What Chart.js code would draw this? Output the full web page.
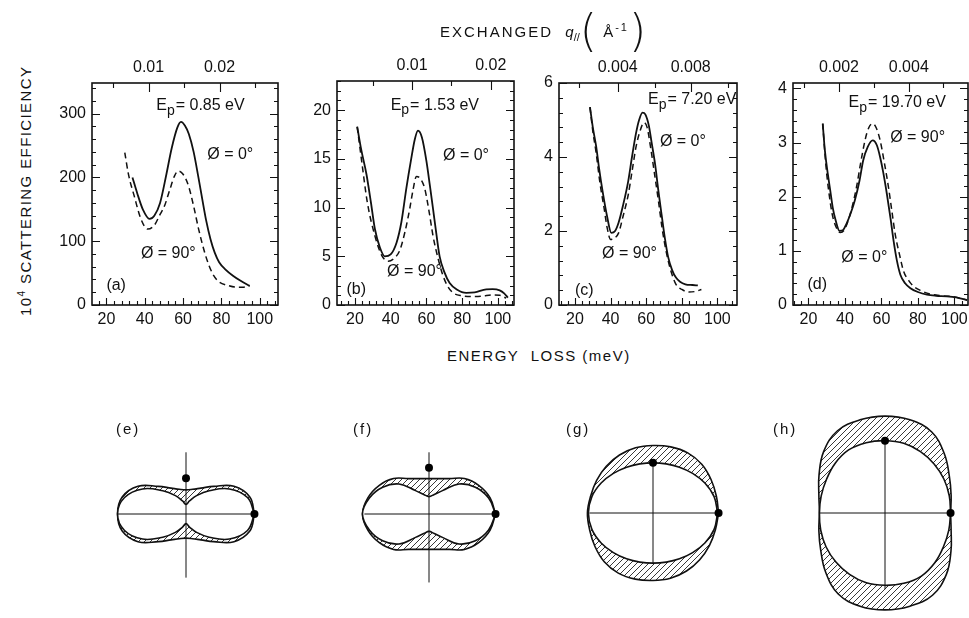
<!DOCTYPE html>
<html lang="en">
<head>
<meta charset="UTF-8">
<title>Scattering efficiency vs energy loss</title>
<script src="https://cdn.jsdelivr.net/npm/chart.js"></script>
<style>
  html, body { margin: 0; padding: 0; background: #fff; overflow: hidden; }
  body { width: 969px; height: 618px; position: relative; font-family: 'Liberation Sans', Arial, sans-serif; color: #111; }
  canvas { position: absolute; }
  .txt { position: absolute; white-space: nowrap; font-size: 15px; letter-spacing: 2px; z-index: 5; }
  .ytitle { transform: rotate(-90deg); transform-origin: center center; letter-spacing: 1.4px; }
  .big { font-family: 'DejaVu Sans', sans-serif; font-size: 44px; font-weight: 200; letter-spacing: 0; vertical-align: -9px; line-height: 0; }
</style>
</head>
<body>

<div class="txt" style="left:440px; top:18px; line-height:18px;">EXCHANGED&nbsp;&nbsp;<i style="letter-spacing:0">q</i><sub style="font-size:11px;letter-spacing:0">//</sub><span class="big">(</span>&nbsp;Å<sup style="font-size:11px">-1</sup><span class="big">)</span></div>
<div class="txt ytitle" style="left:-100px; top:182px; width:250px; text-align:center;">10<sup style="font-size:10px">4</sup> SCATTERING EFFICIENCY</div>
<div class="txt" style="left:447px; top:347px; letter-spacing:1.5px;">ENERGY&nbsp;&nbsp;LOSS (meV)</div>

<div class="txt" style="left:116px; top:420px;">(e)</div>
<div class="txt" style="left:353px; top:420px;">(f)</div>
<div class="txt" style="left:566px; top:420px;">(g)</div>
<div class="txt" style="left:773px; top:420px;">(h)</div>

<canvas id="pa"></canvas>
<canvas id="pb"></canvas>
<canvas id="pc"></canvas>
<canvas id="pd"></canvas>
<canvas id="pe"></canvas>
<canvas id="pf"></canvas>
<canvas id="pg"></canvas>
<canvas id="ph"></canvas>

<script>
// ---- shared tick labels ----
const energyTicks = [20, 40, 60, 80, 100];

// ---- panel (a)  Ep = 0.85 eV ----
const energyA0 = [33.6, 36, 39, 42.5, 45, 48, 51.3, 54, 57, 58.9, 61, 63, 65.5, 68, 70, 72, 74.3, 76.5, 78.8, 82, 86, 90, 94.7];
const effA0 = [200, 176, 150, 135, 140, 160, 205, 245, 278, 287, 281, 268, 240, 200, 166, 133, 103, 82, 67, 56, 46, 38, 30];
const energyA90 = [29.6, 31.5, 34.5, 38, 41.6, 45, 48, 50.4, 53, 55.5, 57.5, 60, 62.8, 65.5, 68.1, 71, 73.5, 76, 78.8, 83, 87.6, 91, 94.7];
const effA90 = [239, 205, 171, 135, 119, 125, 142, 156, 180, 202, 210, 205, 187, 155, 119, 85, 62, 46, 36, 31, 28, 28, 30];
const yTicksA = [0, 100, 200, 300];
const qLabelsA = ['0.01', '0.02'];
const qPosA = [42, 79];
const qMinorA = [23.5, 60.5, 97.5];

// ---- panel (b)  Ep = 1.53 eV ----
const energyB0 = [21.3, 23.5, 26.5, 29, 31.2, 34, 36.7, 40, 43.3, 46, 48.8, 51.5, 53.5, 55.3, 57.5, 60, 62, 63.7, 65.5, 67.4, 70, 73, 77, 82.3, 87, 93.5, 97, 101, 103.5, 105.6];
const effB0 = [18.3, 16, 13.4, 10.5, 7.8, 5.9, 5.0, 5.2, 6.4, 8.5, 12, 15, 17, 17.9, 17.2, 14.8, 12.2, 9.9, 7.4, 5.0, 3.4, 2.26, 1.6, 1.25, 1.3, 1.6, 1.62, 1.5, 1.2, 0.75];
const energyB90 = [21.3, 24, 27, 31.2, 35, 38.6, 42, 45.1, 48, 50.7, 52.5, 54.4, 56.5, 59, 61.5, 63.7, 66.5, 69.3, 72, 74.9, 80, 86, 91, 97.2, 101, 104.6];
const effB90 = [18.3, 14.5, 10.5, 7.1, 5.1, 4.5, 4.8, 5.6, 7.5, 9.9, 11.8, 13.2, 13.0, 12.0, 9.6, 7.1, 4.8, 3.0, 1.9, 1.25, 0.95, 0.87, 0.9, 1.04, 1.0, 0.7];
const yTicksB = [0, 5, 10, 15, 20];
const qLabelsB = ['0.01', '0.02'];
const qPosB = [52, 96];
const qMinorB = [30, 74];

// ---- panel (c)  Ep = 7.20 eV ----
const energyC0 = [28.4, 30, 31.9, 33.5, 35.5, 38, 40.4, 42.5, 44.5, 47, 49.9, 52, 54.3, 56, 57.9, 59.5, 61.5, 63, 65, 66.8, 68.7, 70.5, 72.3, 74.5, 76.7, 79, 82, 86, 89];
const effC0 = [5.35, 4.8, 4.28, 3.7, 3.07, 2.4, 1.95, 2.0, 2.23, 2.7, 3.35, 4.0, 4.65, 5.0, 5.2, 5.15, 4.84, 4.4, 3.8, 3.1, 2.42, 1.8, 1.3, 0.95, 0.74, 0.63, 0.56, 0.54, 0.53];
const energyC90 = [28.4, 30, 31.9, 34, 36.4, 38, 40, 42, 44.5, 47, 49.9, 52, 54.3, 56.5, 58.8, 60.5, 62.4, 64.5, 66.9, 69, 71.4, 74, 76.7, 80, 84, 88, 91];
const effC90 = [5.35, 4.7, 4.1, 3.3, 2.6, 2.1, 1.77, 1.8, 1.95, 2.4, 2.98, 3.6, 4.28, 4.7, 4.93, 4.8, 4.28, 3.6, 2.8, 2.05, 1.4, 0.9, 0.56, 0.42, 0.35, 0.37, 0.42];
const yTicksC = [0, 2, 4, 6];
const qLabelsC = ['0.004', '0.008'];
const qPosC = [44, 85];
const qMinorC = [22.5, 65, 106];

// ---- panel (d)  Ep = 19.70 eV ----
const energyD0 = [27.8, 29, 30.6, 32, 33.3, 35, 37, 38.8, 40.7, 43, 45.4, 48, 50, 52.5, 55.2, 57.5, 59.3, 61, 63, 65, 66.7, 68.5, 70.4, 73, 75.9, 80, 85, 90, 96, 101, 107];
const effD0 = [3.35, 2.85, 2.42, 2.1, 1.8, 1.55, 1.37, 1.38, 1.49, 1.68, 1.93, 2.3, 2.67, 2.92, 3.04, 2.95, 2.73, 2.45, 2.05, 1.6, 1.18, 0.82, 0.56, 0.4, 0.31, 0.24, 0.19, 0.17, 0.16, 0.14, 0.09];
const energyD90 = [27.8, 29, 30, 31.5, 33, 35, 37.4, 39.5, 41.7, 44, 46.3, 48.5, 51, 53, 55.2, 57.2, 59.3, 61.5, 63.9, 65.8, 67.6, 70, 72.2, 75, 77.8, 82, 87, 93, 100, 107];
const effD90 = [3.35, 2.8, 2.42, 2.0, 1.68, 1.45, 1.34, 1.38, 1.55, 1.82, 2.17, 2.6, 3.04, 3.27, 3.35, 3.27, 3.04, 2.65, 2.17, 1.72, 1.3, 0.92, 0.62, 0.45, 0.34, 0.26, 0.2, 0.17, 0.15, 0.09];
const yTicksD = [0, 1, 2, 3, 4];
const qLabelsD = ['0.002', '0.004'];
const qPosD = [36.7, 75];
const qMinorD = [17.5, 56, 94];

// ---- polar diagrams (e)-(h): radius at each angle, point-symmetric ----
const polarAngles = [0, 15, 30, 45, 60, 75, 90, 105, 120, 135, 150, 165];
const eOuter = [71, 68.5, 57.5, 40.5, 31, 26.5, 25, 26.5, 31, 40.5, 57.5, 68.5];
const eInner = [71, 66, 52, 34, 22, 14, 10, 14, 22, 34, 52, 66];
const fOuter = [69, 65.5, 59.5, 52, 42.4, 38, 36.7, 38, 42.4, 52, 59.5, 65.5];
const fInner = [69, 64, 55.5, 44, 28, 21, 18, 21, 28, 44, 55.5, 64];
const gOuter = [68, 68, 69.5, 71.5, 72, 71, 70, 70, 69.5, 68.5, 67.5, 67];
const gInner = [67, 65.6, 62.1, 58.1, 54.8, 52.7, 52, 52.7, 54.8, 58.1, 62.1, 65.6];
const hOuter = [68, 71, 77, 87, 97, 100, 100.5, 100, 98.5, 90, 79, 71];
const hInner = [68, 69, 70.5, 72, 73.6, 75, 75, 75.5, 75.5, 73, 70, 68.5];
// axis line extents [negative end, positive end] and dot radii [at 0 deg, at 90 deg]
const eHAxis = [-71, 71], eVAxis = [-66, 64], eDots = [71, 37];
const fHAxis = [-67, 69], fVAxis = [-71, 64], fDots = [69, 48];
const gHAxis = [-66, 68], gVAxis = [-53, 52], gDots = [68, 52];
const hHAxis = [-68, 68], hVAxis = [-79, 75], hDots = [68, 75];

// ---------------------------------------------------------------
const AXIS_L = 50, AXIS_T = 30, AXIS_B = 30, PAD_R = 12;
const INK = '#111';
const FAMILY = "'Liberation Sans', Arial, sans-serif";
const TICK_FONT = { family: FAMILY, size: 16 };

function pts(xs, ys) { return xs.map((x, i) => ({ x: x, y: ys[i] })); }

const panelFrame = {
  id: 'panelFrame',
  afterDraw(chart, args, o) {
    const { ctx, chartArea: a } = chart;
    const sx = chart.scales.x, sy = chart.scales.y;
    ctx.save();
    ctx.strokeStyle = INK;
    ctx.lineWidth = 1.6;
    ctx.strokeRect(a.left, a.top, a.right - a.left, a.bottom - a.top);
    ctx.lineWidth = 1.1;
    ctx.beginPath();
    const n = Math.floor(sy.max / o.yMinor + 1e-6);
    for (let k = 0; k <= n; k++) {
      const v = k * o.yMinor;
      const py = Math.round(sy.getPixelForValue(v)) + 0.5;
      const L = o.yTicks.some(t => Math.abs(t - v) < 1e-6) ? 8 : 4;
      ctx.moveTo(a.left, py); ctx.lineTo(a.left + L, py);
      ctx.moveTo(a.right, py); ctx.lineTo(a.right - L, py);
    }
    for (let v = Math.ceil(sx.min / 4) * 4; v <= sx.max; v += 4) {
      const px = Math.round(sx.getPixelForValue(v)) + 0.5;
      const L = v % 20 === 0 ? 7 : 4;
      ctx.moveTo(px, a.bottom); ctx.lineTo(px, a.bottom - L);
    }
    o.qPos.forEach(v => {
      const px = Math.round(sx.getPixelForValue(v)) + 0.5;
      ctx.moveTo(px, a.top); ctx.lineTo(px, a.top + 9);
    });
    o.qMinor.forEach(v => {
      if (v > sx.max || v < sx.min) return;
      const px = Math.round(sx.getPixelForValue(v)) + 0.5;
      ctx.moveTo(px, a.top); ctx.lineTo(px, a.top + 5);
    });
    ctx.stroke();

    // annotations
    ctx.fillStyle = INK;
    ctx.textBaseline = 'middle';
    o.notes.forEach(n => {
      let px = sx.getPixelForValue(n.x);
      const py = sy.getPixelForValue(n.y);
      n.parts.forEach(p => {
        ctx.font = (p.sub ? '14px ' : '16px ') + FAMILY;
        ctx.fillText(p.t, px, py + (p.sub ? 5 : 0));
        px += ctx.measureText(p.t).width + (p.gap || 0);
      });
    });
    ctx.restore();
  }
};

function epNote(x, y, val) {
  return { x: x, y: y, parts: [{ t: 'E' }, { t: 'p', sub: true, gap: 1 }, { t: '= ' + val + ' eV' }] };
}
function phiNote(x, y, deg) { return { x: x, y: y, parts: [{ t: 'Ø = ' + deg + '°' }] }; }
function tagNote(x, y, tag) { return { x: x, y: y, parts: [{ t: '(' + tag + ')' }] }; }

const panels = [
  { id: 'pa', box: [92, 83, 278, 305], xr: [12.5, 109.5], yMax: 348, yTicks: yTicksA, yMinor: 20,
    qPos: qPosA, qLabels: qLabelsA, qMinor: qMinorA,
    solid: pts(energyA0, effA0), dashed: pts(energyA90, effA90),
    notes: [epNote(46, 312, '0.85'), phiNote(72.6, 236, 0), phiNote(38, 80, 90), tagNote(20, 30, 'a')] },
  { id: 'pb', box: [337, 81, 514, 305], xr: [10, 109], yMax: 23, yTicks: yTicksB, yMinor: 1,
    qPos: qPosB, qLabels: qLabelsB, qMinor: qMinorB,
    solid: pts(energyB0, effB0), dashed: pts(energyB90, effB90),
    notes: [epNote(40, 20.5, '1.53'), phiNote(69.3, 15.3, 0), phiNote(38, 3.4, 90), tagNote(15.3, 1.6, 'b')] },
  { id: 'pc', box: [559, 83, 737, 305], xr: [11, 111], yMax: 6, yTicks: yTicksC, yMinor: 0.4,
    qPos: qPosC, qLabels: qLabelsC, qMinor: qMinorC,
    solid: pts(energyC0, effC0), dashed: pts(energyC90, effC90),
    notes: [epNote(61, 5.55, '7.20'), phiNote(67.7, 4.42, 0), phiNote(35.2, 1.4, 90), tagNote(20, 0.4, 'c')] },
  { id: 'pd', box: [793, 83, 968, 305], xr: [11.5, 107.5], yMax: 4.1, yTicks: yTicksD, yMinor: 0.2,
    qPos: qPosD, qLabels: qLabelsD, qMinor: qMinorD,
    solid: pts(energyD0, effD0), dashed: pts(energyD90, effD90),
    notes: [epNote(42, 3.73, '19.70'), phiNote(64.8, 3.1, 90), phiNote(38, 0.87, 0), tagNote(19.4, 0.37, 'd')] }
];

panels.forEach(p => {
  const [l, t, r, b] = p.box;
  const cv = document.getElementById(p.id);
  cv.width = (r - l) + AXIS_L + PAD_R;
  cv.height = (b - t) + AXIS_T + AXIS_B;
  cv.style.left = (l - AXIS_L) + 'px';
  cv.style.top = (t - AXIS_T) + 'px';

  new Chart(cv, {
    type: 'scatter',
    data: {
      datasets: [
        { data: p.solid, showLine: true, borderColor: INK, borderWidth: 1.8, pointRadius: 0, cubicInterpolationMode: 'monotone' },
        { data: p.dashed, showLine: true, borderColor: INK, borderWidth: 1.5, borderDash: [6, 4], pointRadius: 0, cubicInterpolationMode: 'monotone' }
      ]
    },
    options: {
      animation: false,
      responsive: false,
      layout: { padding: { left: 0, right: PAD_R, top: 0, bottom: 0 } },
      plugins: {
        legend: { display: false },
        tooltip: { enabled: false },
        panelFrame: { yTicks: p.yTicks, yMinor: p.yMinor, qPos: p.qPos, qMinor: p.qMinor, notes: p.notes }
      },
      scales: {
        x: {
          type: 'linear', position: 'bottom', min: p.xr[0], max: p.xr[1],
          grid: { display: false, drawTicks: false }, border: { display: false },
          ticks: { font: TICK_FONT, color: INK, padding: 5, maxRotation: 0, autoSkip: false },
          afterBuildTicks: s => { s.ticks = energyTicks.map(v => ({ value: v })); },
          afterFit: s => { s.height = AXIS_B; }
        },
        xTop: {
          type: 'linear', position: 'top', min: p.xr[0], max: p.xr[1],
          grid: { display: false, drawTicks: false }, border: { display: false },
          ticks: { font: TICK_FONT, color: INK, padding: 6, maxRotation: 0, autoSkip: false,
                   callback: (v, i) => p.qLabels[i] },
          afterBuildTicks: s => { s.ticks = p.qPos.map(v => ({ value: v })); },
          afterFit: s => { s.height = AXIS_T; }
        },
        y: {
          type: 'linear', position: 'left', min: 0, max: p.yMax,
          grid: { display: false, drawTicks: false }, border: { display: false },
          ticks: { font: TICK_FONT, color: INK, padding: 6 },
          afterBuildTicks: s => { s.ticks = p.yTicks.map(v => ({ value: v })); },
          afterFit: s => { s.width = AXIS_L; }
        }
      }
    },
    plugins: [panelFrame]
  });
});

// ---- polar diagrams ----
function hatchPattern() {
  const c = document.createElement('canvas');
  c.width = 6; c.height = 6;
  const g = c.getContext('2d');
  g.strokeStyle = '#222';
  g.lineWidth = 0.9;
  g.beginPath();
  g.moveTo(0, 6); g.lineTo(6, 0);
  g.moveTo(-1, 1); g.lineTo(1, -1);
  g.moveTo(5, 7); g.lineTo(7, 5);
  g.stroke();
  return g.createPattern(c, 'repeat');
}
const HATCH = hatchPattern();

function loop(radii) {
  const n = polarAngles.length;
  const out = [];
  for (let i = 0; i <= n * 2; i++) {
    const k = i % n;
    const turn = (i >= n && i < n * 2) ? 180 : 0;
    const ang = (polarAngles[k] + turn) * Math.PI / 180;
    out.push({ x: radii[k] * Math.cos(ang), y: radii[k] * Math.sin(ang) });
  }
  return out;
}

const HALF = 112;
const diagrams = [
  { id: 'pe', c: [186, 514], outer: eOuter, inner: eInner, h: eHAxis, v: eVAxis, dots: eDots },
  { id: 'pf', c: [429, 514], outer: fOuter, inner: fInner, h: fHAxis, v: fVAxis, dots: fDots },
  { id: 'pg', c: [653, 513], outer: gOuter, inner: gInner, h: gHAxis, v: gVAxis, dots: gDots },
  { id: 'ph', c: [885, 513], outer: hOuter, inner: hInner, h: hHAxis, v: hVAxis, dots: hDots }
];

diagrams.forEach(d => {
  const cv = document.getElementById(d.id);
  cv.width = HALF * 2; cv.height = HALF * 2;
  cv.style.left = (d.c[0] - HALF) + 'px';
  cv.style.top = (d.c[1] - HALF) + 'px';
  new Chart(cv, {
    type: 'scatter',
    data: {
      datasets: [
        { data: [{ x: d.dots[0], y: 0 }, { x: 0, y: d.dots[1] }], pointRadius: 4, pointBackgroundColor: '#000', pointBorderWidth: 0, order: 0 },
        { data: [{ x: d.h[0], y: 0 }, { x: d.h[1], y: 0 }], showLine: true, borderColor: INK, borderWidth: 1, pointRadius: 0, order: 1 },
        { data: [{ x: 0, y: d.v[0] }, { x: 0, y: d.v[1] }], showLine: true, borderColor: INK, borderWidth: 1, pointRadius: 0, order: 1 },
        { data: loop(d.inner), showLine: true, fill: 'shape', backgroundColor: '#fff', borderColor: INK, borderWidth: 1.6, pointRadius: 0, tension: 0.4, order: 2 },
        { data: loop(d.outer), showLine: true, fill: 'shape', backgroundColor: HATCH, borderColor: INK, borderWidth: 1.6, pointRadius: 0, tension: 0.4, order: 3 }
      ]
    },
    options: {
      animation: false,
      responsive: false,
      layout: { padding: 0 },
      plugins: { legend: { display: false }, tooltip: { enabled: false } },
      scales: {
        x: { type: 'linear', display: false, min: -HALF, max: HALF },
        y: { type: 'linear', display: false, min: -HALF, max: HALF }
      }
    }
  });
});
</script>
</body>
</html>
